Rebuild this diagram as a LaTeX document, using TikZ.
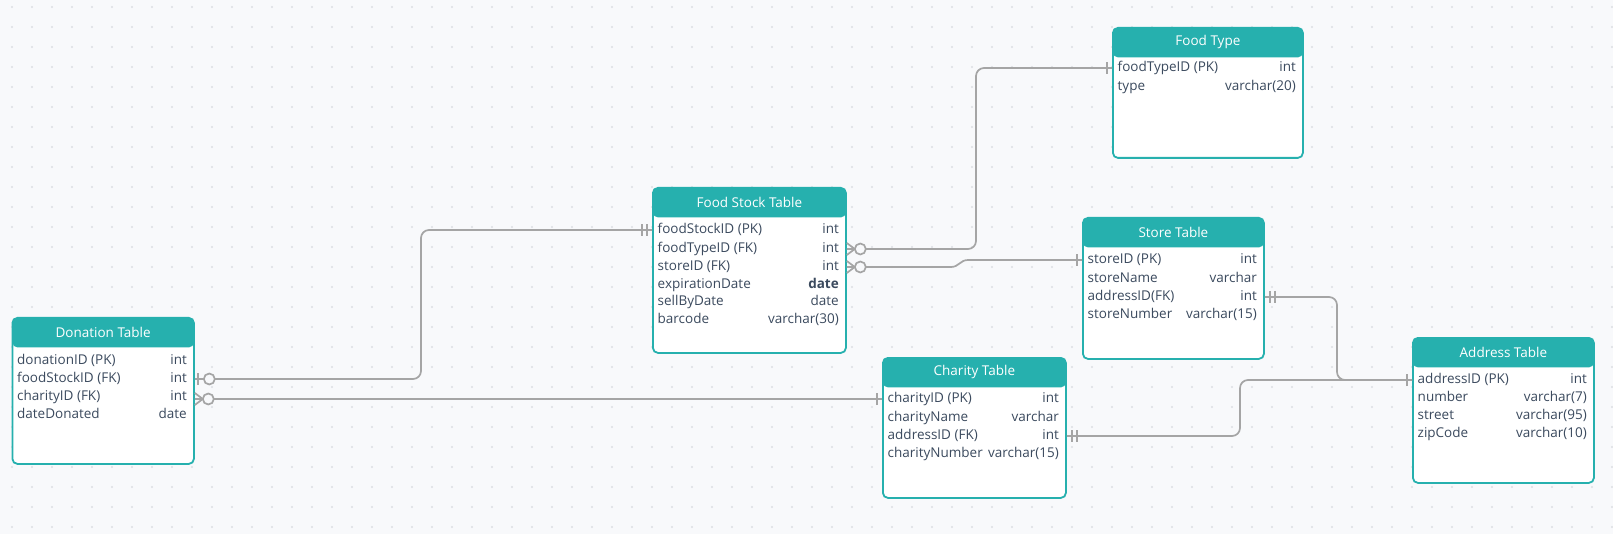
\documentclass[tikz,border=0pt]{standalone}
\usepackage{fontspec}
\setmainfont{Open Sans}
\definecolor{erteal}{HTML}{26B0AE}
\definecolor{ertext}{HTML}{3B4A5E}
\definecolor{erline}{HTML}{A5A5A5}
\definecolor{erbg}{HTML}{F8F9FB}
\definecolor{erdot}{HTML}{DCDEE3}
\tikzset{
  tablebox/.style={draw=erteal, line width=1.8pt, fill=white, rounded corners=5pt,
    anchor=north west, inner sep=0pt,
    path picture={\fill[erteal] (path picture bounding box.north west)
      rectangle ([yshift=-29.5pt]path picture bounding box.north east);}},
  tabletitle/.style={anchor=north, minimum height=29.5pt, inner sep=0pt, text=white,
    font=\fontsize{13.5}{16}\selectfont},
  fieldname/.style={anchor=west, inner sep=0pt, text=ertext, text height=10.5pt,
    text depth=3pt, font=\fontsize{13.5}{16}\selectfont},
  fieldtype/.style={fieldname, anchor=east},
  relline/.style={draw=erline, line width=1.7pt, rounded corners=8pt},
  pics/erone/.style={code={\draw[erline, line width=1.7pt] (5,-6) -- (5,6);}},
  pics/eronly/.style={code={\draw[erline, line width=1.7pt] (5,-6) -- (5,6) (10,-6) -- (10,6);}},
  pics/erzeroone/.style={code={\draw[erline, line width=1.7pt] (3,-6) -- (3,6);
    \filldraw[fill=erbg, draw=erline, line width=1.7pt] (14.5,0) circle[radius=5.5pt];}},
  pics/erzeromany/.style={code={\draw[erline, line width=1.7pt] (0,-6) -- (8,0) -- (0,6) (0,0) -- (8,0);
    \filldraw[fill=erbg, draw=erline, line width=1.7pt] (13.5,0) circle[radius=5.5pt];}}
}
\begin{document}
\begin{tikzpicture}[x=1pt, y=-1pt]
  \useasboundingbox (0,0) rectangle (1613,534);
  \fill[erbg] (0,0) rectangle (1613,534);
  \foreach \x in {12,32,...,1612}
    \foreach \y in {7,27,...,527}
      \fill[erdot] (\x,\y) circle[radius=1.1pt];

  % tables
  \node[tablebox, minimum width=181.5pt, minimum height=146pt] (donation) at (11.5,317) {};
  \node[tabletitle] (donationT) at (donation.north) {Donation Table};
  \node[fieldname] (dnIDf) at (17,361) {donationID (PK)};   \node[fieldtype] (dnIDt) at (187,361) {int};
  \node[fieldname] (dnFSf) at (17,379) {foodStockID (FK)};  \node[fieldtype] (dnFSt) at (187,379) {int};
  \node[fieldname] (dnCHf) at (17,397) {charityID (FK)};    \node[fieldtype] (dnCHt) at (187,397) {int};
  \node[fieldname] (dnDDf) at (17,415) {dateDonated};       \node[fieldtype] (dnDDt) at (187,415) {date};

  \node[tablebox, minimum width=193pt, minimum height=165pt] (fstock) at (652,187) {};
  \node[tabletitle] (fstockT) at (fstock.north) {Food Stock Table};
  \node[fieldname] (fsIDf) at (657.5,230) {foodStockID (PK)}; \node[fieldtype] (fsIDt) at (839,230) {int};
  \node[fieldname] (fsFTf) at (657.5,249) {foodTypeID (FK)};  \node[fieldtype] (fsFTt) at (839,249) {int};
  \node[fieldname] (fsSTf) at (657.5,267) {storeID (FK)};     \node[fieldtype] (fsSTt) at (839,267) {int};
  \node[fieldname] (fsEDf) at (657.5,285) {expirationDate};   \node[fieldtype] (fsEDt) at (839,285) {\bfseries date};
  \node[fieldname] (fsSDf) at (657.5,302) {sellByDate};       \node[fieldtype] (fsSDt) at (839,302) {date};
  \node[fieldname] (fsBCf) at (657.5,320) {barcode};          \node[fieldtype] (fsBCt) at (839,320) {varchar(30)};

  \node[tablebox, minimum width=190pt, minimum height=130pt] (foodtype) at (1112,27) {};
  \node[tabletitle] (foodtypeT) at (foodtype.north) {Food Type};
  \node[fieldname] (ftIDf) at (1117.5,68) {foodTypeID (PK)}; \node[fieldtype] (ftIDt) at (1296,68) {int};
  \node[fieldname] (ftTYf) at (1117.5,87) {type};            \node[fieldtype] (ftTYt) at (1296,87) {varchar(20)};

  \node[tablebox, minimum width=181pt, minimum height=141pt] (store) at (1082,217) {};
  \node[tabletitle] (storeT) at (store.north) {Store Table};
  \node[fieldname] (stIDf) at (1087.5,260) {storeID (PK)};  \node[fieldtype] (stIDt) at (1257,260) {int};
  \node[fieldname] (stNMf) at (1087.5,279) {storeName};     \node[fieldtype] (stNMt) at (1257,279) {varchar};
  \node[fieldname] (stADf) at (1087.5,297) {addressID(FK)}; \node[fieldtype] (stADt) at (1257,297) {int};
  \node[fieldname] (stNOf) at (1087.5,315) {storeNumber};   \node[fieldtype] (stNOt) at (1257,315) {varchar(15)};

  \node[tablebox, minimum width=183pt, minimum height=140pt] (charity) at (882,357) {};
  \node[tabletitle] (charityT) at (charity.north) {Charity Table};
  \node[fieldname] (chIDf) at (887.5,399) {charityID (PK)};  \node[fieldtype] (chIDt) at (1059,399) {int};
  \node[fieldname] (chNMf) at (887.5,418) {charityName};     \node[fieldtype] (chNMt) at (1059,418) {varchar};
  \node[fieldname] (chADf) at (887.5,436) {addressID (FK)};  \node[fieldtype] (chADt) at (1059,436) {int};
  \node[fieldname] (chNOf) at (887.5,454) {charityNumber};   \node[fieldtype] (chNOt) at (1059,454) {varchar(15)};

  \node[tablebox, minimum width=181pt, minimum height=145pt] (address) at (1412,337) {};
  \node[tabletitle] (addressT) at (address.north) {Address Table};
  \node[fieldname] (adIDf) at (1417.5,380) {addressID (PK)}; \node[fieldtype] (adIDt) at (1587,380) {int};
  \node[fieldname] (adNOf) at (1417.5,398) {number};         \node[fieldtype] (adNOt) at (1587,398) {varchar(7)};
  \node[fieldname] (adSTf) at (1417.5,416) {street};         \node[fieldtype] (adSTt) at (1587,416) {varchar(95)};
  \node[fieldname] (adZCf) at (1417.5,434) {zipCode};        \node[fieldtype] (adZCt) at (1587,434) {varchar(10)};

  % connector ends
  \coordinate (dnFS) at (donation.east |- dnFSt);
  \coordinate (dnCH) at (donation.east |- chIDf);
  \coordinate (fsPK) at (fstock.west |- fsIDf);
  \coordinate (fsFT) at (fstock.east |- fsFTt);
  \coordinate (fsST) at (fstock.east |- fsSTt);
  \coordinate (ftPK) at (foodtype.west |- ftIDf);
  \coordinate (stPK) at (store.west |- stIDf);
  \coordinate (stAD) at (store.east |- stADt);
  \coordinate (chPK) at (charity.west |- chIDf);
  \coordinate (chAD) at (charity.east |- chADt);
  \coordinate (adPK) at (address.west |- adIDf);

  % relations
  \draw[relline] (dnFS) -| (421,300) |- (fsPK);
  \draw[relline] (dnCH) -- (chPK);
  \draw[relline] (fsFT) -| (976,150) |- (ftPK);
  \draw[relline, sharp corners] (fsST) -- (951,267) .. controls (959,267) and (960,260) .. (968,260) -- (stPK);
  \draw[relline] (stAD) -| (1337,340) |- (adPK);
  \draw[relline] (chAD) -| (1240,410) |- (adPK);

  \pic at (dnFS) {erzeroone};
  \pic at (dnCH) {erzeromany};
  \pic[rotate=180] at (fsPK) {eronly};
  \pic at (fsFT) {erzeromany};
  \pic at (fsST) {erzeromany};
  \pic[rotate=180] at (ftPK) {erone};
  \pic[rotate=180] at (stPK) {erone};
  \pic at (stAD) {eronly};
  \pic[rotate=180] at (chPK) {erone};
  \pic at (chAD) {eronly};
  \pic[rotate=180] at (adPK) {erone};
\end{tikzpicture}
\end{document}
